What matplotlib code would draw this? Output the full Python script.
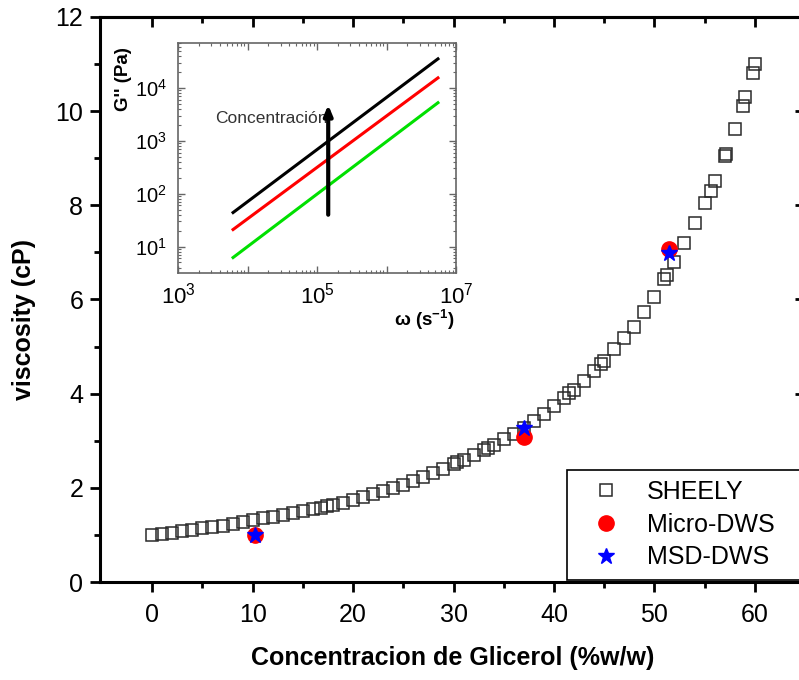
import matplotlib
matplotlib.use('Agg')
import matplotlib.pyplot as plt
from matplotlib.ticker import MultipleLocator, LogLocator, FuncFormatter, NullFormatter, FixedLocator
import numpy as np

plt.rcParams['font.family'] = ['Liberation Sans', 'DejaVu Sans']
plt.rcParams['mathtext.fontset'] = 'custom'
plt.rcParams['mathtext.rm'] = 'Liberation Sans'
plt.rcParams['mathtext.it'] = 'Liberation Sans:italic'
plt.rcParams['mathtext.bf'] = 'Liberation Sans:bold'

# ---------------- data ----------------
sheely_conc = [0, 1, 2, 3, 4, 5, 6, 7, 8, 9, 10, 11, 12, 13, 14, 15, 16, 16.8, 17.4, 18, 19, 20,
               21, 22, 23, 24, 25, 26, 27, 28, 29, 30, 30.3, 31, 32, 33, 33.4, 34, 35, 36, 37,
               38, 39, 40, 41, 41.5, 42, 43, 44, 44.7, 45, 46, 47, 48, 49, 50, 51, 51.3, 52,
               53, 54, 55, 55.6, 56, 57, 57.1, 58, 58.8, 59, 59.8, 60]
sheely_visc = [1.00, 1.03, 1.05, 1.08, 1.11, 1.14, 1.17, 1.20, 1.23, 1.27, 1.31, 1.35, 1.38, 1.42,
               1.46, 1.50, 1.54, 1.58, 1.61, 1.63, 1.68, 1.74, 1.80, 1.86, 1.93, 2.00, 2.07, 2.15,
               2.23, 2.31, 2.40, 2.50, 2.55, 2.60, 2.70, 2.80, 2.85, 2.91, 3.03, 3.15, 3.28, 3.42,
               3.57, 3.73, 3.90, 4.02, 4.08, 4.27, 4.48, 4.64, 4.70, 4.94, 5.18, 5.42, 5.74, 6.06,
               6.43, 6.53, 6.79, 7.19, 7.62, 8.04, 8.30, 8.51, 9.04, 9.09, 9.62, 10.1, 10.3, 10.8,
               11.0]
micro_conc = [10.2, 37.0, 51.5]
micro_visc = [1.00, 3.08, 7.08]
msd_conc = [10.2, 37.0, 51.5]
msd_visc = [1.00, 3.27, 6.98]

# inset
omega = [6.2e3, 5.5e6]
g2_high = [44, 35500]
g2_mid = [21, 15500]
g2_low = [6.2, 5250]
arrow_omega = 1.45e5
arrow_g = [40, 4800]

W, H = 799, 680
fig = plt.figure(figsize=(W / 100, H / 100), dpi=100)

# ---------------- main axes ----------------
ax = fig.add_axes([100 / W, 1 - 582 / H, 705 / W, 565 / H])
ax.plot(sheely_conc, sheely_visc, ls='none', marker='s', ms=8.5, mfc='none',
        mec='#2a2a2a', mew=1.1, label='SHEELY', zorder=3)
ax.plot(micro_conc, micro_visc, ls='none', marker='o', ms=11, color='#ff0000',
        label='Micro-DWS', zorder=4)
ax.plot(msd_conc, msd_visc, ls='none', marker='*', ms=12, color='#0000ff',
        label='MSD-DWS', zorder=5)

ax.set_xlim(-5.2, 65)
ax.set_ylim(0, 12)
ax.xaxis.set_major_locator(FixedLocator([0, 10, 20, 30, 40, 50, 60]))
ax.xaxis.set_minor_locator(FixedLocator([5, 15, 25, 35, 45, 55]))
ax.yaxis.set_major_locator(MultipleLocator(2))
ax.yaxis.set_minor_locator(MultipleLocator(1))
for s in ax.spines.values():
    s.set_linewidth(2.2)
ax.tick_params(which='major', direction='out', length=7, width=2, labelsize=18, pad=5)
ax.tick_params(which='minor', direction='out', length=4, width=2)
ax.tick_params(axis='x', which='major', pad=8)

secx = ax.secondary_xaxis('top')
secx.xaxis.set_major_locator(FixedLocator([0, 10, 20, 30, 40, 50, 60]))
secx.xaxis.set_minor_locator(FixedLocator([5, 15, 25, 35, 45, 55]))
secx.tick_params(which='major', direction='in', length=7, width=2, labeltop=False)
secx.tick_params(which='minor', direction='in', length=4, width=2)
secx.spines['top'].set_linewidth(2.2)

secy = ax.secondary_yaxis('right')
secy.yaxis.set_major_locator(MultipleLocator(2))
secy.yaxis.set_minor_locator(MultipleLocator(1))
secy.tick_params(which='major', direction='in', length=7, width=2, labelright=False)
secy.tick_params(which='minor', direction='in', length=4, width=2)

ax.set_xlabel('Concentracion de Glicerol (%w/w)', fontsize=18, fontweight='bold', labelpad=14)
fig.text(24 / W, 1 - 320 / H, 'viscosity (cP)', fontsize=18, fontweight='bold',
         rotation=90, ha='center', va='center')

leg = ax.legend(loc='upper left', bbox_to_anchor=(567 / W, 1 - 580 / H, 250 / W, 110 / H),
                bbox_transform=fig.transFigure, borderaxespad=0, fontsize=18, mode='expand',
                frameon=True, fancybox=False, edgecolor='black', handlelength=2.3,
                handletextpad=0.5, labelspacing=0.35, borderpad=0.4, framealpha=1)
leg.get_frame().set_linewidth(1.2)

# ---------------- inset ----------------
axi = fig.add_axes([178 / W, 1 - 273 / H, 278 / W, 230 / H])
axi.set_xscale('log')
axi.set_yscale('log')
axi.plot(omega, g2_high, color='black', lw=2.2)
axi.plot(omega, g2_mid, color='#ff0000', lw=2.2)
axi.plot(omega, g2_low, color='#00e000', lw=2.2)
axi.text(3.4e3, 2700, 'Concentración', fontsize=12.5, color='#333333', ha='left', va='center')
axi.annotate('', xy=(arrow_omega, arrow_g[1]), xytext=(arrow_omega, arrow_g[0]),
             arrowprops=dict(arrowstyle='-|>,head_length=0.6,head_width=0.25',
                             lw=3, color='black', shrinkA=0, shrinkB=0))
axi.set_xlim(1e3, 1e7)
axi.set_ylim(10 ** 0.5, 10 ** 4.85)

def xfmt(v, p):
    e = int(round(np.log10(v)))
    return r'$\mathregular{10^{%d}}$' % e if e % 2 == 1 else ''

def yfmt(v, p):
    e = int(round(np.log10(v)))
    return r'$\mathregular{10^{%d}}$' % e

axi.xaxis.set_major_locator(LogLocator(base=10, numticks=10))
axi.xaxis.set_major_formatter(FuncFormatter(xfmt))
axi.xaxis.set_minor_locator(LogLocator(base=10, subs=np.arange(2, 10), numticks=20))
axi.xaxis.set_minor_formatter(NullFormatter())
axi.yaxis.set_major_locator(LogLocator(base=10, numticks=10))
axi.yaxis.set_major_formatter(FuncFormatter(yfmt))
axi.yaxis.set_minor_locator(LogLocator(base=10, subs=np.arange(2, 10), numticks=20))
axi.yaxis.set_minor_formatter(NullFormatter())
for s in axi.spines.values():
    s.set_linewidth(1.2)
    s.set_color('#666666')
axi.tick_params(which='both', direction='in', top=True, right=True, color='#666666')
axi.tick_params(which='major', length=5, width=1)
axi.tick_params(which='minor', length=2.5, width=0.8)
axi.tick_params(axis='x', which='major', labelsize=16, pad=7)
axi.tick_params(axis='y', which='major', labelsize=14.5, pad=8)

fig.text(124 / W, 1 - 79 / H, "G'' (Pa)", fontsize=13.5, fontweight='bold',
         rotation=90, ha='center', va='center')
fig.text(424 / W, 1 - 320 / H, r'ω (s$^{\mathbf{-1}}$)', fontsize=13.5, fontweight='bold',
         ha='center', va='center')

fig.savefig('out.png', dpi=100)
